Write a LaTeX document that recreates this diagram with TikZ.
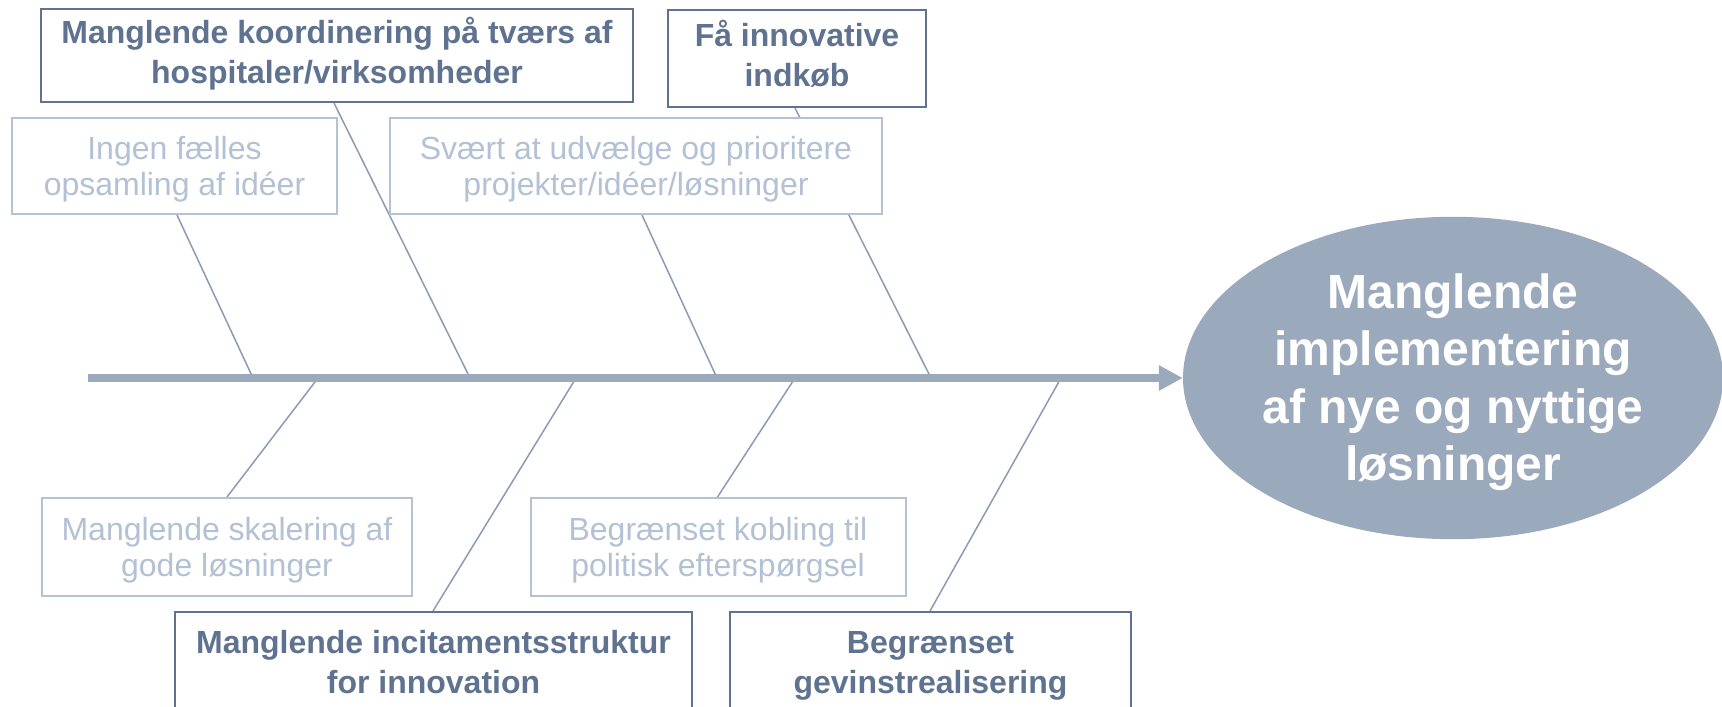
\documentclass[tikz,border=0pt]{standalone}
\usepackage{fontspec}
\setmainfont{Liberation Sans}
\usetikzlibrary{shapes.geometric,arrows.meta,backgrounds}
\definecolor{darkc}{HTML}{5F7391}
\definecolor{lightc}{HTML}{B3C1D4}
\definecolor{lightb}{HTML}{B5C2D4}
\definecolor{spinec}{HTML}{9AA9BC}
\definecolor{bonec}{HTML}{8A9BB5}
% struts fixing first-line height and last-line depth
\newcommand{\bTop}{\rule{0pt}{28pt}}
\newcommand{\bBot}{\rule[-13pt]{0pt}{13pt}}
\newcommand{\lTop}{\rule{0pt}{30pt}}
\newcommand{\lBot}{\rule[-8pt]{0pt}{8pt}}
\newcommand{\eTop}{\rule{0pt}{44pt}}
\newcommand{\eBot}{\rule[-11.5pt]{0pt}{11.5pt}}
\begin{document}
\begin{tikzpicture}[x=1pt,y=-1pt,
  boldbox/.style={draw=darkc, line width=2pt, fill=white, text=darkc,
    font=\fontsize{32}{40}\selectfont\bfseries, align=center, inner sep=0pt},
  lightbox/.style={draw=lightb, line width=2pt, fill=white, text=lightc,
    font=\fontsize{32}{36}\selectfont, align=center, inner sep=0pt},
  bone/.style={draw=bonec, line width=1.5pt},
  spineline/.style={draw=spinec, line width=8pt, -{Triangle[length=24pt,width=24pt]}},
  effect/.style={ellipse, fill=spinec, text=white, inner sep=0pt,
    font=\fontsize{48}{57.5}\selectfont\bfseries, align=center}]
\useasboundingbox (0,0) rectangle (1722,707);
\clip (0,0) rectangle (1722,707);
% boxes
\node[boldbox, minimum width=592pt, minimum height=93pt] (A) at (337,55.5)
  {\bTop Manglende koordinering på tværs af\\hospitaler/virksomheder\bBot};
\node[boldbox, minimum width=258pt, minimum height=97pt] (B) at (797,58.5)
  {\bTop Få innovative\\indkøb\bBot};
\node[lightbox, minimum width=325pt, minimum height=96pt] (C) at (174.5,166)
  {\lTop Ingen fælles\\opsamling af idéer\lBot};
\node[lightbox, minimum width=492pt, minimum height=96pt] (D) at (636,166)
  {\lTop Svært at udvælge og prioritere\\projekter/idéer/løsninger\lBot};
\node[lightbox, minimum width=370pt, minimum height=98pt] (E) at (227,547)
  {\lTop Manglende skalering af\\gode løsninger\lBot};
\node[lightbox, minimum width=375pt, minimum height=98pt] (F) at (718,547)
  {\lTop Begrænset kobling til\\politisk efterspørgsel\lBot};
\node[boldbox, minimum width=517pt, minimum height=107pt] (G) at (433.5,665.5)
  {\bTop Manglende incitamentsstruktur\\for innovation\bBot};
\node[boldbox, minimum width=401pt, minimum height=107pt] (H) at (930.5,665.5)
  {\bTop Begrænset\\gevinstrealisering\bBot};
% effect
\node[effect, minimum width=540pt, minimum height=318pt] (Y) at (1453,378)
  {\eTop Manglende\\implementering\\af nye og nyttige\\løsninger\eBot};
% spine points
\coordinate (tail) at (88,378);
\coordinate (u1) at (253,378);
\coordinate (u2) at (470,378);
\coordinate (u3) at (717,378);
\coordinate (u4) at (931,378);
\coordinate (l1) at (318,378);
\coordinate (l2) at (576,378);
\coordinate (l3) at (795,378);
\coordinate (l4) at (1061,378);
\begin{scope}[on background layer]
  \draw[bone] ([xshift=166pt]C.south west) -- (u1);
  \draw[bone] ([xshift=294pt]A.south west) -- (u2);
  \draw[bone] ([xshift=253pt]D.south west) -- (u3);
  \draw[bone] ([xshift=128pt]B.south west) -- (u4);
  \draw[bone] (l1) -- ([xshift=186pt]E.north west);
  \draw[bone] (l2) -- ([xshift=259pt]G.north west);
  \draw[bone] (l3) -- ([xshift=188pt]F.north west);
  \draw[bone] (l4) -- ([xshift=201pt]H.north west);
\end{scope}
\draw[spineline] (tail) -- (Y.west);
\end{tikzpicture}
\end{document}
